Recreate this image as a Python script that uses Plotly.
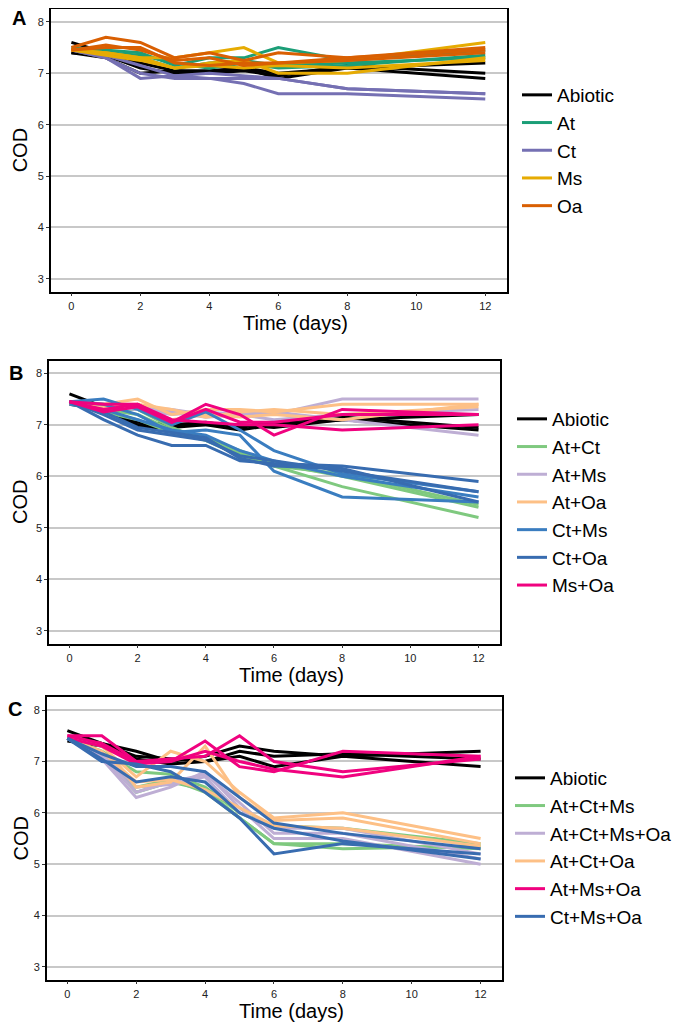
import plotly.graph_objects as go

days = [0, 1, 2, 3, 4, 5, 6, 8, 12]
y_ticks = [3, 4, 5, 6, 7, 8]
x_ticks = [0, 2, 4, 6, 8, 10, 12]

# ---------------- Panel A: single cultures ----------------
A_abiotic = [
    [7.6, 7.4, 7.2, 7.05, 7.05, 7.1, 7.0, 7.1, 7.2],
    [7.4, 7.35, 7.1, 7.0, 7.0, 7.05, 6.95, 7.15, 7.0],
    [7.4, 7.3, 7.0, 7.05, 7.0, 7.1, 6.9, 7.1, 6.9],
]
A_at = [
    [7.5, 7.45, 7.4, 7.15, 7.3, 7.3, 7.5, 7.25, 7.45],
    [7.45, 7.4, 7.35, 7.2, 7.1, 7.2, 7.1, 7.15, 7.35],
    [7.45, 7.4, 7.3, 7.1, 7.2, 7.25, 7.15, 7.2, 7.3],
]
A_ct = [
    [7.45, 7.3, 6.9, 6.95, 6.9, 6.9, 6.9, 6.7, 6.6],
    [7.45, 7.3, 7.0, 6.9, 6.9, 6.8, 6.6, 6.6, 6.5],
    [7.45, 7.35, 7.15, 6.95, 7.0, 6.95, 6.9, 6.7, 6.6],
]
A_ms = [
    [7.45, 7.4, 7.3, 7.3, 7.4, 7.5, 7.2, 7.25, 7.6],
    [7.45, 7.4, 7.3, 7.1, 7.2, 7.25, 7.0, 7.0, 7.3],
    [7.45, 7.35, 7.25, 7.1, 7.15, 7.1, 7.15, 7.1, 7.25],
]
A_oa = [
    [7.5, 7.7, 7.6, 7.3, 7.4, 7.25, 7.4, 7.3, 7.5],
    [7.45, 7.5, 7.5, 7.2, 7.15, 7.2, 7.2, 7.25, 7.4],
    [7.45, 7.55, 7.45, 7.25, 7.3, 7.15, 7.2, 7.3, 7.45],
]

# ---------------- Panel B: pairs ----------------
B_abiotic = [
    [7.6, 7.35, 7.0, 7.0, 7.0, 6.9, 7.0, 7.1, 7.2],
    [7.4, 7.3, 6.95, 6.95, 7.0, 7.0, 6.95, 7.1, 6.9],
    [7.45, 7.3, 7.05, 7.0, 7.05, 6.95, 7.05, 7.15, 6.95],
]
B_at_ct = [
    [7.45, 7.3, 7.3, 6.95, 6.7, 6.45, 6.2, 5.8, 5.2],
    [7.45, 7.3, 7.2, 6.9, 6.75, 6.5, 6.25, 6.0, 5.4],
    [7.45, 7.25, 7.1, 6.85, 6.7, 6.4, 6.2, 6.05, 5.45],
]
B_at_ms = [
    [7.45, 7.4, 7.35, 7.3, 7.2, 7.25, 7.2, 7.5, 7.5],
    [7.45, 7.35, 7.3, 7.2, 7.25, 7.2, 7.25, 7.1, 6.8],
    [7.45, 7.4, 7.3, 7.25, 7.15, 7.2, 7.1, 7.2, 7.3],
]
B_at_oa = [
    [7.45, 7.4, 7.5, 7.2, 7.3, 7.3, 7.25, 7.4, 7.4],
    [7.45, 7.4, 7.4, 7.3, 7.15, 7.25, 7.3, 7.2, 7.35],
    [7.4, 7.35, 7.35, 7.1, 7.2, 7.15, 7.2, 7.1, 7.4],
]
B_ct_ms = [
    [7.45, 7.5, 7.3, 7.0, 7.25, 6.9, 6.5, 6.05, 5.7],
    [7.45, 7.4, 7.2, 6.85, 6.9, 6.8, 6.1, 5.6, 5.5],
    [7.4, 7.3, 7.1, 6.9, 6.8, 6.5, 6.3, 6.0, 5.6],
]
B_ct_oa = [
    [7.45, 7.1, 6.8, 6.6, 6.6, 6.3, 6.25, 6.2, 5.9],
    [7.45, 7.2, 6.9, 6.8, 6.7, 6.4, 6.3, 6.1, 5.7],
    [7.45, 7.25, 6.95, 6.85, 6.75, 6.35, 6.2, 6.15, 5.5],
]
B_ms_oa = [
    [7.45, 7.4, 7.4, 7.05, 7.4, 7.2, 6.8, 7.3, 7.2],
    [7.45, 7.25, 7.35, 7.05, 7.3, 7.05, 7.05, 7.2, 7.2],
    [7.45, 7.3, 7.4, 7.1, 7.05, 7.0, 7.0, 6.9, 7.0],
]

# ---------------- Panel C: triples / quadruple ----------------
C_abiotic = [
    [7.6, 7.35, 7.2, 7.0, 7.1, 7.3, 7.2, 7.1, 7.2],
    [7.4, 7.3, 7.05, 6.95, 7.0, 7.1, 6.9, 7.1, 6.9],
    [7.45, 7.35, 7.1, 7.05, 7.0, 7.2, 7.1, 7.15, 7.05],
]
C_at_ct_ms = [
    [7.45, 7.1, 6.4, 6.6, 6.45, 5.9, 5.4, 5.3, 5.35],
    [7.45, 7.2, 6.8, 6.75, 6.5, 6.0, 5.75, 5.7, 5.4],
    [7.45, 7.1, 6.5, 6.65, 6.4, 5.9, 5.4, 5.4, 5.3],
]
C_at_ct_ms_oa = [
    [7.45, 7.05, 6.3, 6.5, 6.8, 6.1, 5.5, 5.5, 5.0],
    [7.45, 7.1, 6.4, 6.6, 6.75, 6.2, 5.6, 5.6, 5.1],
    [7.45, 7.15, 6.5, 6.55, 6.7, 6.0, 5.7, 5.7, 5.2],
]
C_at_ct_oa = [
    [7.45, 7.3, 6.7, 7.2, 7.0, 6.4, 5.9, 6.0, 5.5],
    [7.45, 7.35, 6.5, 6.6, 7.3, 6.3, 5.85, 5.9, 5.4],
    [7.45, 7.2, 6.6, 6.65, 6.45, 6.1, 5.75, 5.7, 5.35],
]
C_at_ms_oa = [
    [7.5, 7.5, 7.0, 7.0, 7.4, 6.9, 6.8, 7.2, 7.1],
    [7.5, 7.35, 7.0, 7.05, 7.1, 7.5, 7.0, 6.8, 7.05],
    [7.45, 7.3, 6.95, 7.0, 7.2, 7.0, 6.85, 6.7, 7.1],
]
C_ct_ms_oa = [
    [7.45, 7.15, 6.9, 6.9, 6.8, 6.3, 5.8, 5.6, 5.3],
    [7.45, 7.05, 6.6, 6.7, 6.6, 6.0, 5.7, 5.45, 5.1],
    [7.45, 7.0, 6.95, 6.8, 6.4, 5.9, 5.2, 5.4, 5.2],
]

A_names = ["Abiotic", "At", "Ct", "Ms", "Oa"]
A_data = [A_abiotic, A_at, A_ct, A_ms, A_oa]
A_colors = ["#000000", "#1b9e77", "#7570b3", "#e6ab02", "#d95f02"]

B_names = ["Abiotic", "At+Ct", "At+Ms", "At+Oa", "Ct+Ms", "Ct+Oa", "Ms+Oa"]
B_data = [B_abiotic, B_at_ct, B_at_ms, B_at_oa, B_ct_ms, B_ct_oa, B_ms_oa]
B_colors = ["#000000", "#7fc97f", "#beaed4", "#fdc086", "#3a7dc0", "#386cb0", "#f0027f"]

C_names = ["Abiotic", "At+Ct+Ms", "At+Ct+Ms+Oa", "At+Ct+Oa", "At+Ms+Oa", "Ct+Ms+Oa"]
C_data = [C_abiotic, C_at_ct_ms, C_at_ct_ms_oa, C_at_ct_oa, C_at_ms_oa, C_ct_ms_oa]
C_colors = ["#000000", "#7fc97f", "#beaed4", "#fdc086", "#f0027f", "#386cb0"]

FONT = "Liberation Sans, Arial, Helvetica, sans-serif"
H = 1025.0
W = 681.0
S = 8.0  # page body margin offset (screen px = figure px + S)

panels = [
    # names, data, colors, axis suffix, legend id, x px (screen), y px (top,bottom screen), legend left, legend top, label, label pos
    (A_names, A_data, A_colors, "", "legend", (50.7, 507), (9, 291.7), 517, 76, "A", (19, 18)),
    (B_names, B_data, B_colors, "2", "legend2", (49, 500), (360.5, 643.6), 512, 400, "B", (16, 373)),
    (C_names, C_data, C_colors, "3", "legend3", (46.7, 502.3), (697.3, 979.7), 510, 759, "C", (15, 709)),
]


def px(x):
    return (x - S) / W


def py(y):
    return 1 - (y - S) / H


fig = go.Figure()
layout = dict(
    width=681, height=1025,
    margin=dict(l=0, r=0, t=0, b=0),
    paper_bgcolor="white", plot_bgcolor="white",
    font=dict(family=FONT, color="#000000"),
    showlegend=True,
    annotations=[],
)

for names, data, colors, sfx, leg, xpx, ypx, legleft, legtop, label, lpos in panels:
    xa = "x" + sfx
    ya = "y" + sfx
    for name, reps, col in zip(names, data, colors):
        for i, rep in enumerate(reps):
            fig.add_trace(go.Scatter(
                x=days, y=rep, mode="lines", name=name,
                line=dict(color=col, width=3),
                legendgroup=leg + name, showlegend=(i == 0),
                legend=leg, xaxis=xa, yaxis=ya,
            ))
    layout["xaxis" + sfx] = dict(
        domain=[px(xpx[0]), px(xpx[1])], anchor=ya, automargin=False,
        range=[-0.6, 12.63], tickvals=x_ticks, ticks="outside", ticklen=3,
        tickwidth=1, tickcolor="#333", showgrid=False, zeroline=False,
        showline=True, linecolor="black", linewidth=1.5, mirror=True,
        tickfont=dict(size=11, color="#222"),
    )
    layout["yaxis" + sfx] = dict(
        domain=[py(ypx[1]), py(ypx[0])], anchor=xa, automargin=False,
        range=[2.75, 8.25], tickvals=y_ticks, ticks="outside", ticklen=3,
        tickwidth=1, tickcolor="#333", showgrid=True, gridcolor="#c8c8c8",
        gridwidth=1.5, zeroline=False,
        showline=True, linecolor="black", linewidth=1.5, mirror=True,
        tickfont=dict(size=11, color="#222"),
    )
    layout[leg] = dict(
        x=px(legleft), xanchor="left",
        y=py(legtop), yanchor="top",
        font=dict(size=19, color="black"),
        bgcolor="rgba(0,0,0,0)", tracegroupgap=0,
    )
    layout["annotations"].append(dict(
        text="<b>%s</b>" % label, x=px(lpos[0]), y=py(lpos[1]),
        xref="paper", yref="paper", showarrow=False,
        font=dict(size=20, color="black"), xanchor="center", yanchor="middle",
    ))
    # axis titles
    layout["annotations"].append(dict(
        text="Time (days)", x=px((xpx[0] + xpx[1]) / 2 + 17), y=py(ypx[1] + 31),
        xref="paper", yref="paper", showarrow=False,
        font=dict(size=20, color="black"), xanchor="center", yanchor="middle",
    ))
    layout["annotations"].append(dict(
        text="COD", x=px(20), y=py((ypx[0] + ypx[1]) / 2), textangle=-90,
        xref="paper", yref="paper", showarrow=False,
        font=dict(size=20, color="black"), xanchor="center", yanchor="middle",
    ))

fig.update_layout(**layout)
fig.write_html("out.html")
